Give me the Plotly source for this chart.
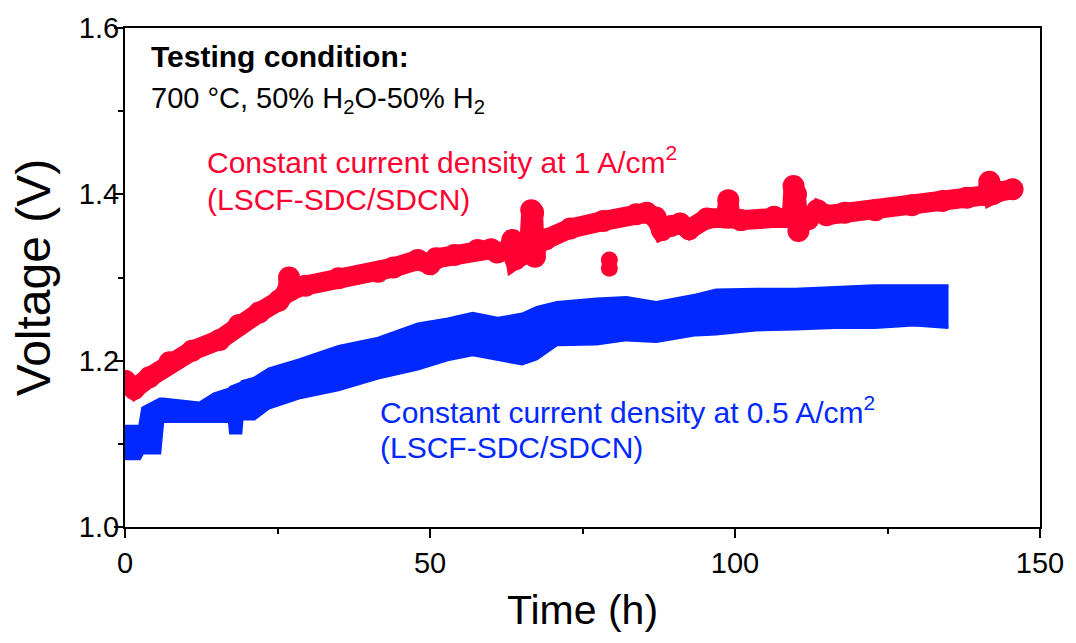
import plotly.graph_objects as go

# ---------------- data ----------------
# Red series: 1 A/cm2 (time in h, voltage in V)
red_t = [0, 0.4, 1.5, 4, 7.3, 11, 15.5, 18.7, 22, 25.2, 26.6, 26.9, 27.2, 28, 29.6,
         35, 41.5, 44, 48, 50, 51, 54, 57.8, 60, 61, 62.8, 63.5, 64.0, 65, 66.2,
         66.6, 66.9, 67.2, 67.6, 69, 73, 78.4, 83.8, 85.5, 87, 88, 89.5, 91, 92.5,
         95.4, 98.5, 98.9, 99.3, 101, 106.4, 109.3, 109.6, 110.0, 110.4, 110.8, 112,
         113.5, 115, 118, 123, 129, 134, 138, 141.2, 141.7, 142.2, 143, 145.5]
red_v = [1.176, 1.172, 1.166, 1.180, 1.198, 1.212, 1.225, 1.243, 1.258, 1.272, 1.283, 1.300, 1.285, 1.288, 1.290,
         1.299, 1.307, 1.312, 1.321, 1.316, 1.323, 1.327, 1.333, 1.334, 1.330, 1.333, 1.345, 1.322, 1.327, 1.330,
         1.381, 1.378, 1.325, 1.340, 1.346, 1.359, 1.368, 1.376, 1.378, 1.372, 1.357, 1.362, 1.365, 1.358,
         1.371, 1.372, 1.393, 1.372, 1.369, 1.373, 1.373, 1.410, 1.400, 1.356, 1.368, 1.370,
         1.381, 1.375, 1.378, 1.381, 1.387, 1.392, 1.396, 1.399, 1.415, 1.400, 1.403, 1.406]
# isolated red readings
red_out_t = [79.4, 79.4]
red_out_v = [1.321, 1.311]

# Blue series: 0.5 A/cm2, drawn as scatter band (upper / lower extent of readings)
blue_t = [0, 2.4, 2.9, 5.7, 6.2, 12.2, 14.6, 17.1, 17.3, 19.0, 19.2, 21.2, 23.6, 28.5,
          35.0, 41.5, 48.0, 52.9, 57.0, 61.1, 65.1, 67.5, 70.8, 77.3, 82.2, 87.1,
          93.6, 96.9, 103.4, 109.9, 116.4, 122.9, 129.4, 135.0]
blue_hi = [1.121, 1.121, 1.143, 1.154, 1.154, 1.149, 1.160, 1.166, 1.168, 1.173, 1.175, 1.179, 1.190, 1.201,
           1.217, 1.227, 1.244, 1.250, 1.257, 1.251, 1.256, 1.264, 1.270, 1.274, 1.276, 1.270,
           1.279, 1.285, 1.286, 1.286, 1.288, 1.290, 1.290, 1.290]
blue_lo = [1.082, 1.082, 1.089, 1.089, 1.127, 1.127, 1.127, 1.127, 1.113, 1.113, 1.130, 1.130, 1.143, 1.155,
           1.165, 1.179, 1.190, 1.201, 1.207, 1.201, 1.196, 1.202, 1.219, 1.220, 1.225, 1.223,
           1.231, 1.232, 1.237, 1.238, 1.240, 1.240, 1.243, 1.240]

x_ticks = [0, 50, 100, 150]
y_ticks = [1.0, 1.2, 1.4, 1.6]

RED = "#FF0033"
BLUE = "#0028FF"
FONT = "Liberation Sans, Arial, sans-serif"

fig = go.Figure()

# blue band
fig.add_trace(go.Scatter(x=blue_t, y=blue_lo, mode="lines", line=dict(color=BLUE, width=3),
                         showlegend=False, hoverinfo="skip"))
fig.add_trace(go.Scatter(x=blue_t, y=blue_hi, mode="lines", line=dict(color=BLUE, width=3),
                         fill="tonexty", fillcolor=BLUE, showlegend=False))

# red series
fig.add_trace(go.Scatter(x=red_t, y=red_v, mode="lines+markers",
                         line=dict(color=RED, width=20),
                         marker=dict(color=RED, size=22, symbol="circle", line=dict(width=0)),
                         showlegend=False))
fig.add_trace(go.Scatter(x=red_out_t, y=red_out_v, mode="markers",
                         marker=dict(color=RED, size=17, symbol="circle", line=dict(width=0)),
                         showlegend=False))

axis_common = dict(showline=True, linecolor="black", linewidth=2, mirror=True,
                   ticks="outside", ticklen=9, tickwidth=2, tickcolor="black",
                   showgrid=False, zeroline=False,
                   tickfont=dict(family=FONT, size=29, color="black"))

fig.update_xaxes(range=[0, 150], tickvals=x_ticks,
                 minor=dict(ticks="outside", ticklen=5, tickwidth=2, dtick=25, tick0=0, tickcolor="black"),
                 title=dict(text="Time (h)", font=dict(family=FONT, size=41, color="black"), standoff=18),
                 **axis_common)
fig.update_yaxes(range=[1.0, 1.6], tickvals=y_ticks, tickformat=".1f", ticklabelstandoff=-11,
                 minor=dict(ticks="outside", ticklen=5, tickwidth=2, dtick=0.1, tick0=1.0, tickcolor="black"),
                 title=dict(text="Voltage (V)", font=dict(family=FONT, size=48, color="black"), standoff=13),
                 **axis_common)

def note(text, x, y, color="black", size=29, bold=False):
    fig.add_annotation(x=x, y=y, xref="x", yref="y", text=("<b>%s</b>" % text) if bold else text,
                       showarrow=False, xanchor="left", yanchor="middle",
                       font=dict(family=FONT, size=size, color=color))

note("Testing condition:", 4.0, 1.566, bold=True, size=30)
note("700 °C, 50% H<sub>2</sub>O-50% H<sub>2</sub>", 4.0, 1.513)
note("Constant current density at 1 A/cm<sup>2</sup>", 13.1, 1.441, color=RED, size=30)
note("(LSCF-SDC/SDCN)", 13.1, 1.394, color=RED, size=30)
note("Constant current density at 0.5 A/cm<sup>2</sup>", 41.4, 1.141, color=BLUE, size=30)
note("(LSCF-SDC/SDCN)", 41.4, 1.096, color=BLUE, size=30)

fig.update_layout(width=1076, height=643, margin=dict(l=125, r=30, t=22, b=116),
                  paper_bgcolor="white", plot_bgcolor="white",
                  font=dict(family=FONT, color="black"))

fig.write_html("out.html")
